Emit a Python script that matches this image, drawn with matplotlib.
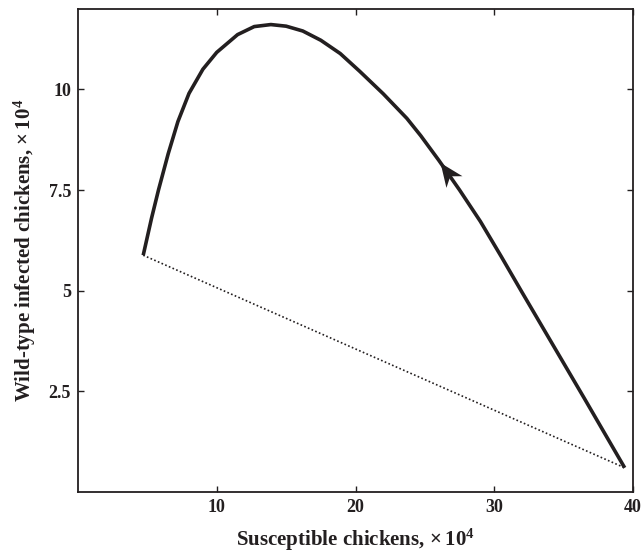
import numpy as np
import matplotlib
matplotlib.use("Agg")
import matplotlib.pyplot as plt
from matplotlib.path import Path
from matplotlib.markers import MarkerStyle
from matplotlib.transforms import Affine2D

# trajectory (susceptible, wild-type infected), in 10^4
susceptible = [39.4, 38.0, 36.5, 35.0, 33.5, 32.0, 30.5, 29.0, 27.5, 26.0, 24.7,
               23.7, 22.0, 20.3, 18.9, 17.5, 16.2, 15.0, 13.9, 12.7, 11.5, 10.0,
               9.0, 8.0, 7.2, 6.5, 5.8, 5.3, 4.7]
infected = [0.6, 1.43, 2.32, 3.2, 4.08, 4.96, 5.85, 6.72, 7.5, 8.24, 8.85,
            9.28, 9.89, 10.45, 10.89, 11.22, 11.45, 11.57, 11.61, 11.56, 11.36, 10.92,
            10.5, 9.9, 9.2, 8.4, 7.5, 6.8, 5.88]
# dotted line between the two end states
line_s = [4.7, 39.4]
line_i = [5.88, 0.6]
# arrow position on the curve
arrow_at = (26.6, 7.95)
arrow_toward = (24.7, 8.85)

xticks = [10, 20, 30, 40]
yticks = [2.5, 5, 7.5, 10]
yticklabels = ["2.5", "5", "7.5", "10"]

ink = "#231f20"
plt.rcParams["font.family"] = ["Liberation Serif", "DejaVu Serif"]
plt.rcParams["font.weight"] = "bold"
plt.rcParams["mathtext.fontset"] = "custom"
plt.rcParams["mathtext.rm"] = "Liberation Serif:bold"
plt.rcParams["mathtext.bf"] = "Liberation Serif:bold"
plt.rcParams["mathtext.default"] = "rm"

fig = plt.figure(figsize=(6.42, 5.54), dpi=100)
ax = fig.add_axes([0.1215, 0.112, 0.8645, 0.872])

ax.plot(line_s, line_i, linestyle=(0, (1, 1.4)), color=ink, lw=1.2)
ax.plot(susceptible, infected, color=ink, lw=2.6, solid_capstyle="butt",
        solid_joinstyle="round")

ax.set_xlim(0, 40)
ax.set_ylim(0, 12)
ax.set_xticks(xticks)
ax.set_yticks(yticks)
ax.set_yticklabels(yticklabels)
ax.tick_params(direction="in", top=True, right=True, length=4, width=1,
               labelsize=13, colors=ink, pad=5)
for lab in ax.get_xticklabels() + ax.get_yticklabels():
    lab.set_fontweight("bold")
for sp in ax.spines.values():
    sp.set_linewidth(1.3)
    sp.set_color(ink)

ax.set_xlabel("Susceptible chickens, $\\times\\,10^4$", fontsize=15,
              fontweight="bold", labelpad=8, color=ink)
ax.set_ylabel("Wild-type infected chickens, $\\times\\,10^4$", fontsize=15,
              fontweight="bold", labelpad=8, color=ink)

# arrowhead with a notch, rotated to follow the curve in screen space
p0 = ax.transData.transform(arrow_at)
p1 = ax.transData.transform(arrow_toward)
angle = np.degrees(np.arctan2(p1[1] - p0[1], p1[0] - p0[0]))
head = Path([(0.5, 0), (-0.5, 0.42), (-0.2, 0), (-0.5, -0.42), (0.5, 0)],
            [Path.MOVETO, Path.LINETO, Path.LINETO, Path.LINETO, Path.CLOSEPOLY])
marker = MarkerStyle(head, transform=Affine2D().rotate_deg(angle))
ax.plot([arrow_at[0]], [arrow_at[1]], marker=marker, markersize=17,
        color=ink, markeredgewidth=0, linestyle="none")

fig.savefig("out.png", dpi=100)
